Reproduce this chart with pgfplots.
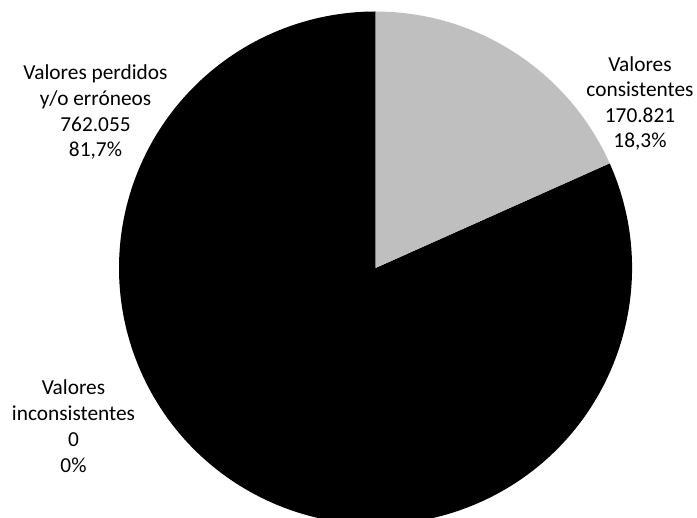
\documentclass[border=0pt]{standalone}
\usepackage{pgfplots}
\pgfplotsset{compat=1.18}
\usepackage{pgfplotstable}
\usepackage{fontspec}
\setmainfont{Carlito}
\definecolor{cgray}{RGB}{191,191,191}
% values in thousands (Spanish notation: 170.821 = 170821)
\pgfplotstableread{
label value
consistentes 170.821
perdidos 762.055
inconsistentes 0
}\piedata
\pgfplotstablegetelem{0}{value}\of\piedata \let\va\pgfplotsretval
\pgfplotstablegetelem{1}{value}\of\piedata \let\vb\pgfplotsretval
\pgfplotstablegetelem{2}{value}\of\piedata \let\vc\pgfplotsretval
\pgfmathsetmacro\total{\va+\vb+\vc}
\pgfmathsetmacro\fa{\va/\total}
\pgfmathsetmacro\fb{\vb/\total}
\pgfmathsetmacro\angA{90-360*\fa}
\pgfmathsetmacro\angB{\angA-360*\fb}
\begin{document}
\begin{tikzpicture}
\useasboundingbox (0,0) rectangle (522.75pt,388.5pt);
\begin{scope}
\clip (0,0) rectangle (522.75pt,388.5pt);
\begin{axis}[at={(281.625pt,187.5pt)}, anchor=center, hide axis, scale only axis,
  width=384.75pt, height=384.75pt, xmin=-1, xmax=1, ymin=-1, ymax=1, clip=false]
\addplot[draw=none, forget plot] coordinates {(-1,-1) (1,1)};
\fill[black] (axis cs:0,0) -- ++(\angA:192.375pt) arc[start angle=\angA, end angle=\angB, radius=192.375pt] -- cycle;
\fill[cgray] (axis cs:0,0) -- (axis cs:0,1) arc[start angle=90, end angle=\angA, radius=192.375pt] -- cycle;
\end{axis}
\end{scope}
\begin{scope}[every node/.style={font=\fontsize{16}{19}\selectfont, anchor=base, inner sep=0pt}]
\node at (480pt,334.5pt) {Valores};
\node at (480pt,315.75pt) {consistentes};
\node at (480pt,296.25pt) {170.821};
\node at (480pt,277.5pt) {18,3\%};
\node at (71.625pt,328.5pt) {Valores perdidos};
\node at (71.625pt,309pt) {y/o erróneos};
\node at (71.625pt,289.5pt) {762.055};
\node at (71.625pt,270.75pt) {81,7\%};
\node at (55.125pt,92.25pt) {Valores};
\node at (55.125pt,72.75pt) {inconsistentes};
\node at (55.125pt,53.25pt) {0};
\node at (55.125pt,33.75pt) {0\%};
\end{scope}
\end{tikzpicture}
\end{document}
